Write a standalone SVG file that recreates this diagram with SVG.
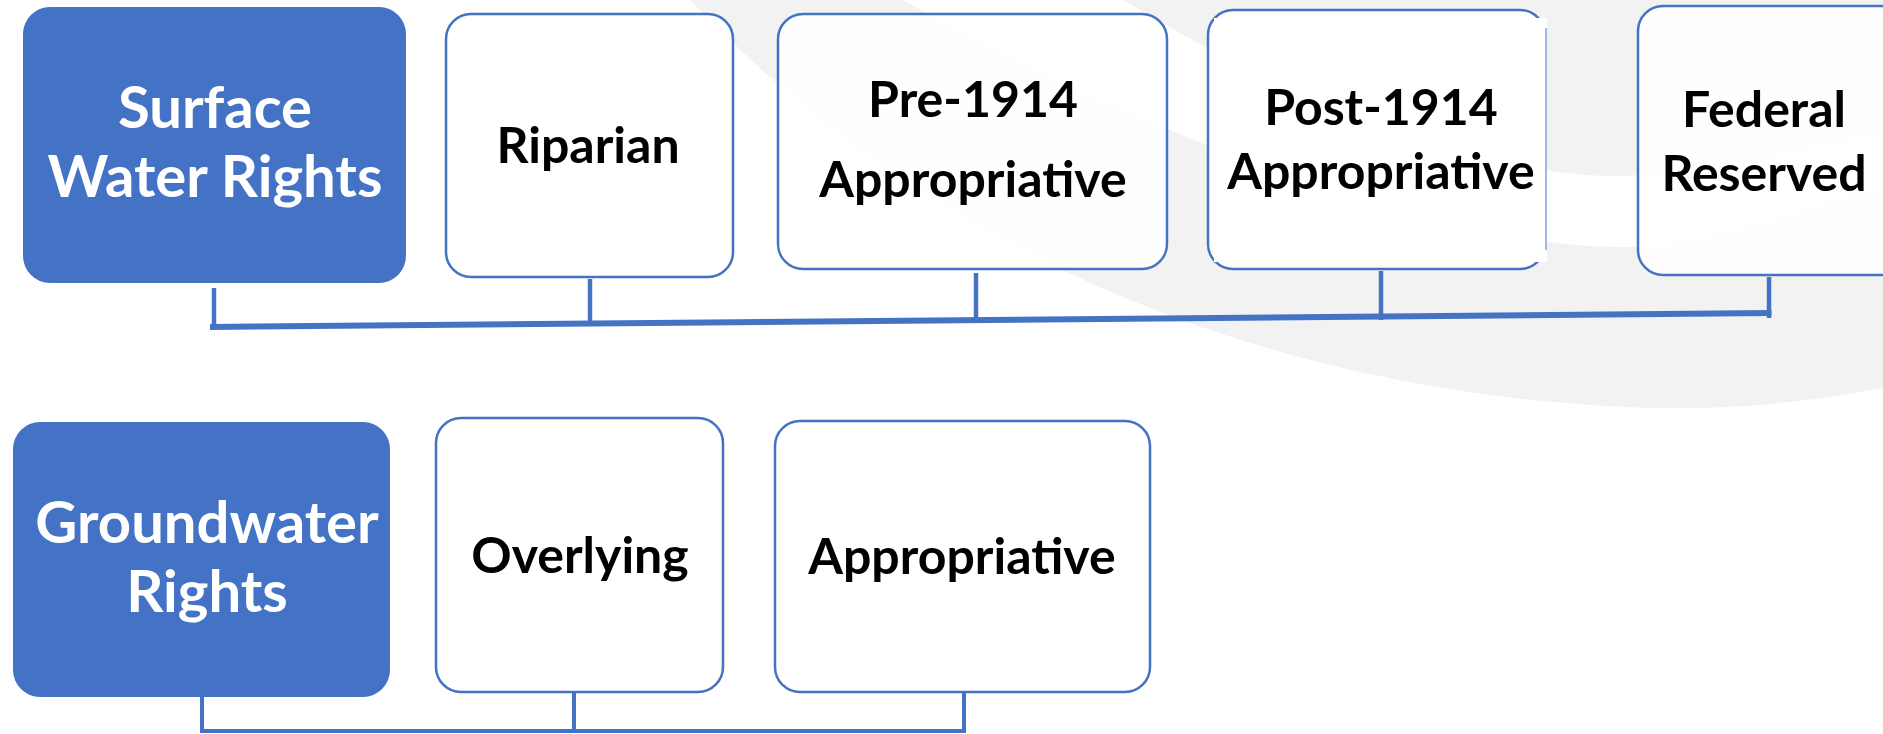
<svg xmlns="http://www.w3.org/2000/svg" width="1883" height="734" viewBox="0 0 1883 734">
  <style>
    .hdr { fill: #4472C4; }
    .box { fill: #ffffff; fill-opacity: 0.88; stroke: #4472C4; stroke-width: 2.5; }
    .wt { fill: #ffffff; font-family: Lato, 'Liberation Sans', sans-serif; font-weight: 700; font-size: 58px; text-anchor: middle; }
    .bt { fill: #000000; font-family: Lato, 'Liberation Sans', sans-serif; font-weight: 700; font-size: 50px; text-anchor: middle; }
    .conn { stroke: #4472C4; fill: none; stroke-linecap: butt; }
  </style>
  <rect x="0" y="0" width="1883" height="734" fill="#ffffff"/>
  <g id="background">
    <path d="M 690,0 C 870,190 1180,392 1650,408 C 1750,410 1830,398 1883,388 L 1883,0 Z" fill="#f2f2f2"/>
    <path d="M 1124,0 C 1300,110 1500,178 1620,176 C 1720,174 1800,150 1883,133 L 1883,187 C 1800,205 1720,247 1620,247 C 1450,247 1150,140 903,0 Z" fill="#ffffff"/>
  </g>
  <g id="connectors">
    <g stroke-width="4.5" class="conn">
      <line x1="214" y1="288" x2="214" y2="329"/>
      <line x1="590" y1="279" x2="590" y2="326"/>
      <line x1="976" y1="273" x2="976" y2="323"/>
      <line x1="1381" y1="271" x2="1381" y2="320"/>
      <line x1="1769" y1="277" x2="1769" y2="318"/>
    </g>
    <line class="conn" stroke-width="6" x1="210" y1="327" x2="1771.5" y2="313"/>
    <g stroke-width="4" class="conn">
      <line x1="202" y1="697" x2="202" y2="733"/>
      <line x1="574" y1="692" x2="574" y2="733"/>
      <line x1="964" y1="692" x2="964" y2="733"/>
      <line x1="200" y1="731" x2="966" y2="731"/>
    </g>
  </g>
  <g id="surface-water-rights">
    <rect class="hdr" x="23" y="7" width="383" height="276" rx="27" ry="27"/>
    <text class="wt" x="215" y="128">Surface</text>
    <text class="wt" x="215" y="197">Water Rights</text>
  </g>
  <g id="riparian">
    <rect class="box" x="446" y="14" width="287" height="263" rx="25" ry="25"/>
    <text class="bt" x="588" y="163">Riparian</text>
  </g>
  <g id="pre-1914">
    <rect class="box" x="778" y="14" width="389" height="255" rx="25" ry="25"/>
    <text class="bt" x="973" y="117">Pre-1914</text>
    <text class="bt" x="973" y="197">Appropriative</text>
  </g>
  <g id="post-1914">
    <rect class="box" x="1208" y="10" width="337" height="259" rx="25" ry="25"/>
    <rect x="1214" y="18" width="333" height="244" fill="#ffffff"/>
    <line x1="1546" y1="28" x2="1546" y2="250" stroke="#4472C4" stroke-width="1"/>
    <text class="bt" x="1381" y="125">Post-1914</text>
    <text class="bt" x="1381" y="189">Appropriative</text>
  </g>
  <g id="federal-reserved">
    <rect class="box" x="1638" y="6" width="270" height="269" rx="25" ry="25"/>
    <text class="bt" x="1764" y="127">Federal</text>
    <text class="bt" x="1764" y="191">Reserved</text>
  </g>
  <g id="groundwater-rights">
    <rect class="hdr" x="13" y="422" width="377" height="275" rx="27" ry="27"/>
    <text class="wt" x="207" y="543">Groundwater</text>
    <text class="wt" x="207" y="612">Rights</text>
  </g>
  <g id="overlying">
    <rect class="box" x="436" y="418" width="287" height="274" rx="25" ry="25"/>
    <text class="bt" x="580" y="573">Overlying</text>
  </g>
  <g id="appropriative">
    <rect class="box" x="775" y="421" width="375" height="271" rx="25" ry="25"/>
    <text class="bt" x="962" y="574">Appropriative</text>
  </g>
</svg>
